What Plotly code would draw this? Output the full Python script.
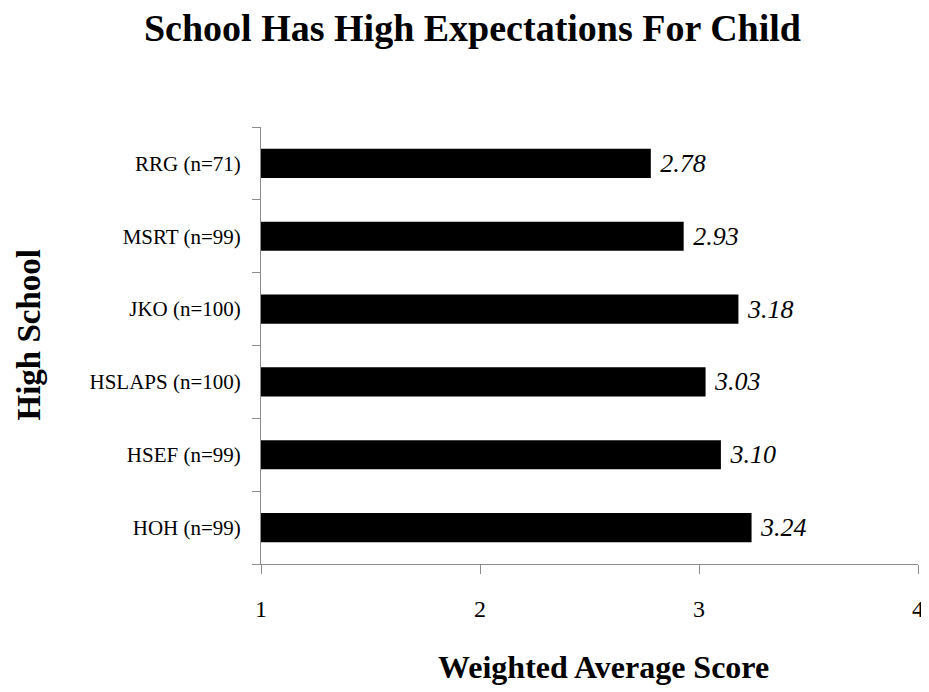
import plotly.graph_objects as go

schools = ["HOH (n=99)", "HSEF (n=99)", "HSLAPS (n=100)", "JKO (n=100)", "MSRT (n=99)", "RRG (n=71)"]
scores = [3.24, 3.10, 3.03, 3.18, 2.93, 2.78]
x_ticks = [1, 2, 3, 4]

FONT = "Liberation Serif, Times New Roman, serif"
AX = "#8c8c8c"

fig = go.Figure(go.Bar(
    y=schools, x=[s - 1 for s in scores], base=1, orientation="h",
    marker=dict(color="black", line=dict(width=0)),
    width=0.4,
    text=[f" {s:.2f}" for s in scores],
    textposition="outside",
    textfont=dict(family=FONT, size=26, color="black", style="italic"),
    cliponaxis=False,
))

fig.update_layout(
    width=929, height=692,
    paper_bgcolor="white", plot_bgcolor="white",
    margin=dict(l=253, r=19, t=119, b=136, autoexpand=False),
    showlegend=False,
    title=dict(text="<b>School Has High Expectations For Child</b>",
               xref="container", x=0.5, xanchor="center",
               yref="container", y=1 - 20 / 692, yanchor="middle",
               font=dict(family=FONT, size=38, color="black")),
    font=dict(family=FONT, color="black"),
    annotations=[
        dict(text="<b>Weighted Average Score</b>", xref="paper", yref="paper",
             x=(603 - 261) / 657, y=0, yshift=-103, xanchor="center", yanchor="middle",
             showarrow=False, font=dict(family=FONT, size=32, color="black")),
        dict(text="<b>High School</b>", xref="paper", yref="paper",
             x=0, xshift=-233, y=0.5, yshift=10, textangle=-90,
             xanchor="center", yanchor="middle",
             showarrow=False, font=dict(family=FONT, size=33, color="black")),
    ],
)
fig.update_xaxes(
    range=[1, 4], tickvals=x_ticks, ticktext=[str(t) for t in x_ticks],
    showgrid=False, zeroline=False, automargin=False,
    showline=True, linecolor=AX, linewidth=1,
    ticks="outside", ticklen=9, tickcolor=AX, ticklabelstandoff=14,
    tickfont=dict(family=FONT, size=24, color="black"),
)
fig.update_yaxes(
    type="category", categoryorder="array", categoryarray=schools,
    showgrid=False, zeroline=False, automargin=False,
    showline=True, linecolor=AX, linewidth=1,
    ticks="outside", ticklen=8, tickcolor=AX, tickson="boundaries",
    ticklabelstandoff=15,
    tickfont=dict(family=FONT, size=21, color="black"),
)

fig.write_html("out.html")
